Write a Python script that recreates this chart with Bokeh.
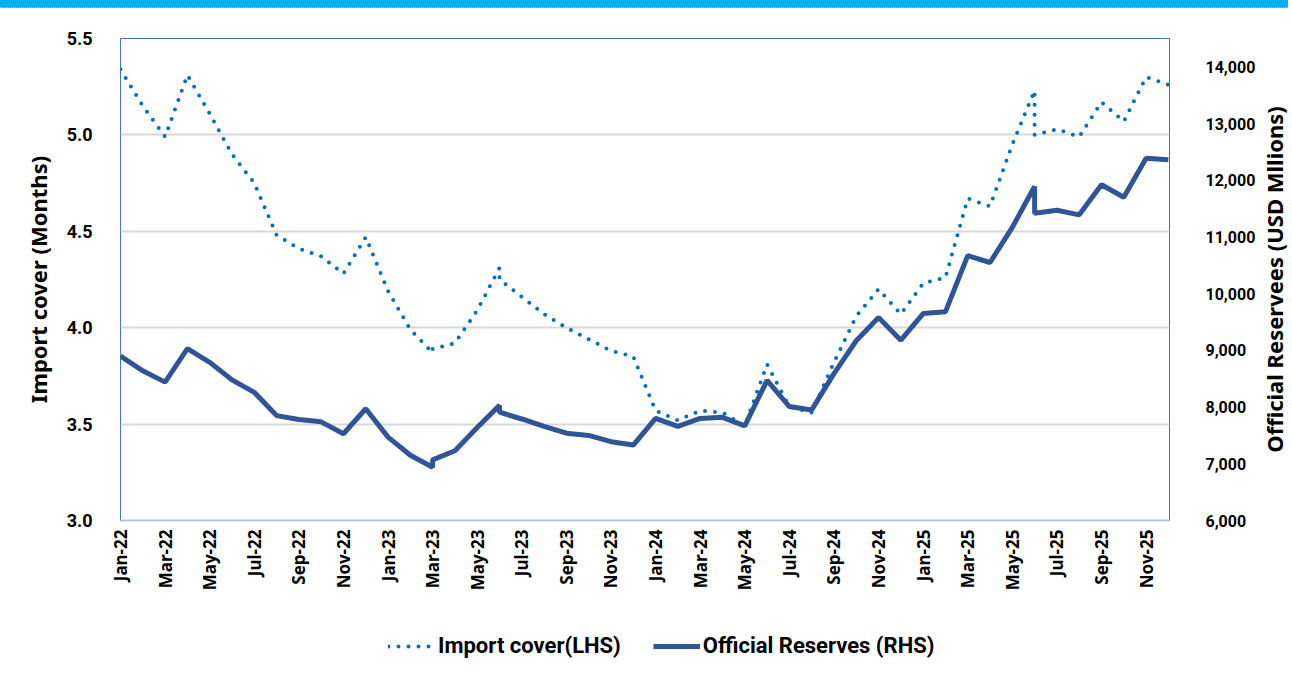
from math import pi
from bokeh.plotting import figure
from bokeh.layouts import column, row
from bokeh.models import (LinearAxis, Range1d, FixedTicker, NumeralTickFormatter,
                          Legend, LegendItem, Div, Title)
from bokeh.embed import file_html
from bokeh.resources import INLINE

# ---------------- data ----------------
months = ["Jan-22", "Feb-22", "Mar-22", "Apr-22", "May-22", "Jun-22", "Jul-22", "Aug-22",
          "Sep-22", "Oct-22", "Nov-22", "Dec-22",
          "Jan-23", "Feb-23", "Mar-23", "Apr-23", "May-23", "Jun-23", "Jul-23", "Aug-23",
          "Sep-23", "Oct-23", "Nov-23", "Dec-23",
          "Jan-24", "Feb-24", "Mar-24", "Apr-24", "May-24", "Jun-24", "Jul-24", "Aug-24",
          "Sep-24", "Oct-24", "Nov-24", "Dec-24",
          "Jan-25", "Feb-25", "Mar-25", "Apr-25", "May-25", "Jun-25", "Jul-25", "Aug-25",
          "Sep-25", "Oct-25", "Nov-25", "Dec-25"]

# observation dates (some months carry two observations)
obs_month = ["Jan-22", "Feb-22", "Mar-22", "Apr-22", "May-22", "Jun-22", "Jul-22", "Aug-22",
             "Sep-22", "Oct-22", "Nov-22", "Dec-22",
             "Jan-23", "Feb-23", "Mar-23", "Mar-23", "Apr-23", "May-23", "Jun-23", "Jun-23",
             "Jul-23", "Aug-23", "Sep-23", "Oct-23", "Nov-23", "Dec-23",
             "Jan-24", "Feb-24", "Mar-24", "Apr-24", "May-24", "Jun-24", "Jul-24", "Aug-24",
             "Sep-24", "Oct-24", "Nov-24", "Dec-24",
             "Jan-25", "Feb-25", "Mar-25", "Apr-25", "May-25", "Jun-25", "Jun-25", "Jul-25",
             "Aug-25", "Sep-25", "Oct-25", "Nov-25", "Dec-25"]

import_cover = [5.34, 5.15, 4.99, 5.31, 5.11, 4.90, 4.75, 4.48, 4.41, 4.37, 4.28, 4.47,
                4.19, 3.99, 3.87, 3.89, 3.92, 4.09, 4.31, 4.25, 4.16, 4.07, 4.00, 3.94,
                3.88, 3.85,
                3.57, 3.52, 3.57, 3.56, 3.49, 3.81, 3.59, 3.56, 3.82, 4.06, 4.20, 4.07,
                4.23, 4.26, 4.67, 4.63, 4.95, 5.23, 5.00, 5.03, 4.99, 5.17, 5.07, 5.30,
                5.26]

official_reserves = [8900, 8640, 8440, 9030, 8790, 8480, 8260, 7850, 7780, 7740, 7530, 7970,
                     7470, 7150, 6940, 7070, 7230, 7640, 8030, 7910, 7790, 7660, 7540, 7500,
                     7390, 7330,
                     7800, 7660, 7800, 7820, 7670, 8470, 8010, 7950, 8590, 9170, 9580, 9180,
                     9650, 9680, 10670, 10550, 11170, 11890, 11420, 11470, 11390, 11920,
                     11700, 12390, 12360]

left_ticks = [3.0, 3.5, 4.0, 4.5, 5.0, 5.5]
right_ticks = [6000, 7000, 8000, 9000, 10000, 11000, 12000, 13000, 14000]
label_every = 2

series_names = ["Import cover(LHS)", "Official Reserves (RHS)"]
left_title = "Import cover (Months)"
right_title = "Official Reservees (USD Mllions)"

x_idx = [months.index(m) for m in obs_month]

FONT = "Noto Sans"
NUMF = "Roboto"
MAIN_W = 1258
TITLE_W = 30
W = MAIN_W + TITLE_W
BAND_H = 8
MAIN_H = 612
LEG_H = 45
FRAME_TOP = 30
FRAME_H = 482
FRAME_L = 120
FRAME_R = 1169

# ---------------- top band ----------------
band = Div(text="", width=W, height=BAND_H,
           styles={"background-color": "#00B0F0", "border-bottom": "1px dotted #7FD6F7",
                   "box-sizing": "border-box", "overflow": "hidden",
                   "line-height": "0px", "font-size": "0px", "padding": "0px",
                   "margin": "0px"})

# ---------------- main chart ----------------
p = figure(width=MAIN_W, height=MAIN_H,
           x_range=Range1d(0, len(months) - 1 + 0.05),
           y_range=Range1d(left_ticks[0], left_ticks[-1]),
           output_backend="svg", toolbar_location=None,
           min_border_left=FRAME_L, min_border_right=MAIN_W - FRAME_R,
           min_border_top=FRAME_TOP, min_border_bottom=MAIN_H - FRAME_TOP - FRAME_H,
           background_fill_color="white", border_fill_color="white")

p.extra_y_ranges = {"res": Range1d(6000, 14500)}

lt = FixedTicker(ticks=left_ticks)
left = p.left[0]
left.ticker = lt
left.formatter = NumeralTickFormatter(format="0.0")
left.axis_label = left_title
p.ygrid.ticker = lt

right = LinearAxis(y_range_name="res", ticker=FixedTicker(ticks=right_ticks),
                   formatter=NumeralTickFormatter(format="0,0"))
p.add_layout(right, "right")

xb = p.below[0]
xt = list(range(0, len(months), label_every))
xb.ticker = FixedTicker(ticks=xt)
xb.major_label_overrides = {i: months[i] for i in xt}
xb.major_label_orientation = pi / 2
xb.major_label_standoff = 3
xb.axis_line_color = "#B4C3DE"
xb.axis_line_width = 2

for ax in (left, right, xb):
    ax.major_tick_line_color = None
    ax.minor_tick_line_color = None
    ax.major_label_text_font_style = "bold"
    ax.major_label_text_color = "black"
    ax.axis_label_text_font = FONT
    ax.axis_label_text_font_style = "bold"
    ax.axis_label_text_color = "black"
    ax.axis_label_text_font_size = "22px"

left.major_label_text_font = NUMF
right.major_label_text_font = NUMF
xb.major_label_text_font = FONT
left.axis_line_color = None
right.axis_line_color = None
left.major_label_text_font_size = "18px"
right.major_label_text_font_size = "16px"
xb.major_label_text_font_size = "17px"
left.major_label_standoff = 22
right.major_label_standoff = 30
left.axis_label_standoff = 11

p.xgrid.visible = False
p.ygrid.grid_line_color = "#D9D9D9"
p.ygrid.grid_line_width = 2
p.outline_line_color = "#4472C4"
p.outline_line_width = 1

COVER_STYLE = dict(line_color="#0070C0", line_width=4, line_dash="0 10", line_cap="round")
RES_STYLE = dict(line_color="#2F5597", line_width=5)

p.line(x_idx, import_cover, **COVER_STYLE)
p.line(x_idx, official_reserves, y_range_name="res", **RES_STYLE)

# ---------------- right-hand axis title (reads bottom to top) ----------------
tfig = figure(width=TITLE_W, height=MAIN_H, x_axis_type=None, y_axis_type=None,
              output_backend="svg", toolbar_location=None,
              min_border_left=0, min_border_right=0,
              min_border_top=FRAME_TOP, min_border_bottom=MAIN_H - FRAME_TOP - FRAME_H,
              background_fill_color="white", border_fill_color="white")
tfig.outline_line_color = None
tfig.add_layout(Title(text=right_title, align="center", text_font=FONT,
                      text_font_style="bold", text_font_size="22px",
                      text_color="black", standoff=0, offset=0), "left")

# ---------------- legend strip (series drawn off-range, only legend shows) ----------------
leg = figure(width=W, height=LEG_H, x_axis_type=None, y_axis_type=None,
             x_range=Range1d(0, len(months) - 1), y_range=Range1d(-2, -1),
             output_backend="svg", toolbar_location=None,
             min_border_left=FRAME_L, min_border_right=W - FRAME_R,
             min_border_top=0, min_border_bottom=0,
             background_fill_color="white", border_fill_color="white")
leg.outline_line_color = None
leg.grid.visible = False
lr1 = leg.line(x_idx, import_cover, **COVER_STYLE)
lr2 = leg.line(x_idx, official_reserves, **RES_STYLE)
legend = Legend(items=[LegendItem(label=series_names[0], renderers=[lr1]),
                       LegendItem(label=series_names[1], renderers=[lr2])],
                orientation="horizontal", location=(268, 7),
                border_line_color=None, background_fill_alpha=0,
                glyph_width=47, glyph_height=20, label_standoff=3, spacing=32,
                label_text_font=NUMF, label_text_font_style="bold",
                label_text_font_size="22px", label_text_color="black",
                margin=0, padding=2)
leg.add_layout(legend)

layout = column(band, row(p, tfig, spacing=0), leg, spacing=0)
open("out.html", "w").write(file_html(layout, INLINE))
